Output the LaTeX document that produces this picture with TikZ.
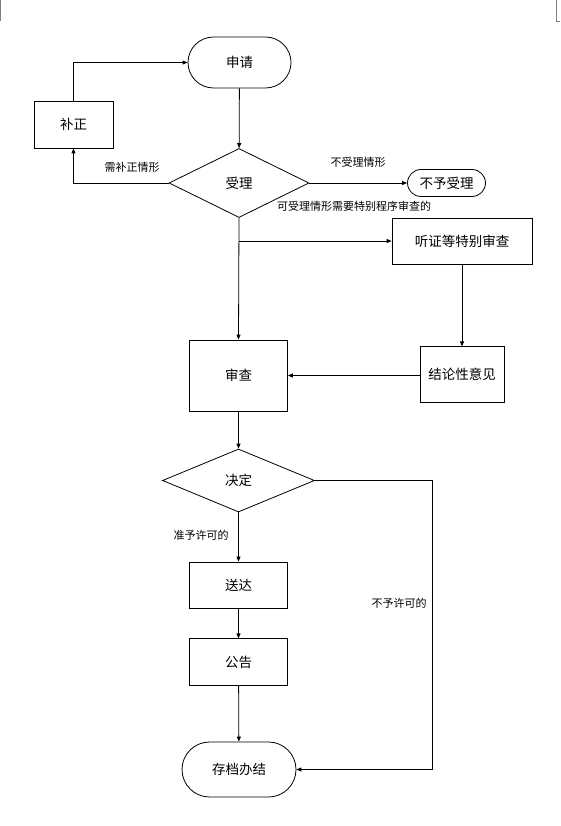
\documentclass[tikz,border=0pt]{standalone}
\usepackage{fontspec}
\setmainfont{Noto Sans CJK SC}
\usepackage{tikz}
\usetikzlibrary{arrows.meta, positioning, shapes.geometric, shapes.misc}

\begin{document}
\begin{tikzpicture}[x=1pt, y=-1pt, node distance=30pt,
    >={Triangle[length=5pt, width=4pt]}, line width=0.8pt,
    box/.style={draw, rectangle, inner sep=0pt, font=\fontsize{13.5}{15}\selectfont},
    term/.style={draw, rounded rectangle, inner sep=0pt, font=\fontsize{13.5}{15}\selectfont},
    choice/.style={draw, diamond, inner sep=0pt, font=\fontsize{13.5}{15}\selectfont},
    lbl/.style={inner sep=0pt, font=\fontsize{11}{13}\selectfont}]
    \useasboundingbox (0,0) rectangle (560,826);
    \draw[gray, line width=0.6pt] (0.5,0) -- (0.5,21);
    \draw[gray, line width=0.6pt] (556,0) -- (556,21) -- (560,21);

    \node[term, minimum width=103pt, minimum height=51pt] (shenqing) at (239.5, 62.5) {申请};
    \node[box, minimum width=79pt, minimum height=47pt] (buzheng) at (73.5, 124.5) {补正};
    \node[choice, minimum width=140pt, minimum height=69pt] (shouli) at (239, 183) {受理};
    \node[term, minimum width=78pt, minimum height=27pt] (buyu) at (446.5, 183) {不予受理};
    \node[box, minimum width=140pt, minimum height=46pt] (tingzheng) at (462, 241) {听证等特别审查};
    \node[box, minimum width=84pt, minimum height=56pt] (jielun) [below=82pt of tingzheng.south, anchor=north] {结论性意见};
    \node[box, minimum width=98pt, minimum height=71pt] (shencha) at (238.5, 375.5) {审查};
    \node[choice, minimum width=152pt, minimum height=63pt] (jueding) at (238.5, 480.5) {决定};
    \node[box, minimum width=98pt, minimum height=46pt] (songda) at (238.5, 585) {送达};
    \node[box, minimum width=98pt, minimum height=47pt] (gonggao) [below=of songda] {公告};
    \node[term, minimum width=114pt, minimum height=55pt] (cundang) at (239, 769.5) {存档办结};

    \node[lbl] (xubu) at (132, 167) {需补正情形};
    \node[lbl] (bushou) at (358, 162) {不受理情形};
    \node[lbl] (teshu) at (354, 206) {可受理情形需要特别程序审查的};
    \node[lbl] (zhunyu) at (201, 535) {准予许可的};
    \node[lbl] (buxu) at (399, 603) {不予许可的};

    \coordinate (fork) at (shouli.south |- tingzheng.west);
    \coordinate (rside) at (432, 480.5);

    \draw[->] (buzheng.north) |- (shenqing.west);
    \draw[->] (shenqing) -- (shouli);
    \draw[->] (shouli.west) -| (buzheng.south);
    \draw[->] (shouli.east) -- (buyu.west);
    \draw[->] (shouli.south) -- (shencha.north);
    \draw[->] (fork) -- (tingzheng.west);
    \draw[->] (tingzheng.south) -- (jielun.north);
    \draw[->] (jielun.west) -- (shencha.east -| jielun.west) -- (shencha.east);
    \draw[->] (shencha) -- (jueding);
    \draw[->] (jueding) -- (songda);
    \draw[->] (songda) -- (gonggao);
    \draw[->] (gonggao) -- (cundang);
    \draw[->] (jueding.east) -- (rside) |- (cundang.east);
\end{tikzpicture}
\end{document}
